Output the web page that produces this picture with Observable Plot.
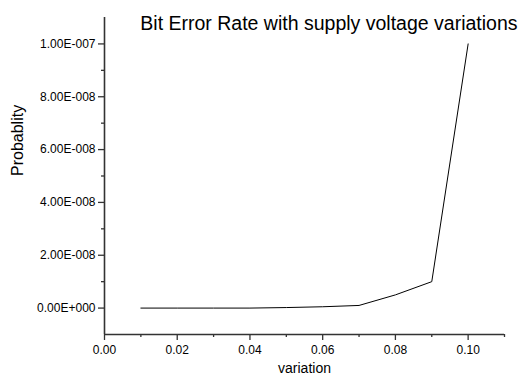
<!DOCTYPE html>
<html>
<head>
<meta charset="utf-8">
<script src="https://cdn.jsdelivr.net/npm/d3@7"></script>
<script src="https://cdn.jsdelivr.net/npm/@observablehq/plot@0.6"></script>
<style>
  html, body { margin: 0; padding: 0; background: #fff; }
  #chart { width: 520px; height: 385px; }
</style>
</head>
<body>
<div id="chart"></div>
<script>
const titleText = "Bit Error Rate with supply voltage variations";
const xLabel = "variation";
const yLabel = "Probablity";

const variation = [0.01, 0.02, 0.03, 0.04, 0.05, 0.06, 0.07, 0.08, 0.09, 0.10];
const probability = [0, 0, 0, 0, 2e-10, 5e-10, 1e-9, 5e-9, 1e-8, 1e-7];

const xMajor = [0, 0.02, 0.04, 0.06, 0.08, 0.10];
const xMinor = [0.01, 0.03, 0.05, 0.07, 0.09, 0.11];
const yMajor = [0, 2e-8, 4e-8, 6e-8, 8e-8, 1e-7];
const yMinor = [1e-8, 3e-8, 5e-8, 7e-8, 9e-8];
const xDomain = [0, 0.11];
const yDomain = [-1e-8, 1.1e-7];

const data = variation.map((v, i) => ({x: v, y: probability[i]}));

function fmtE(v) {
  if (v === 0) return "0.00E+000";
  const [m, e] = v.toExponential(2).split("e");
  const n = +e;
  return m + "E" + (n < 0 ? "-" : "+") + String(Math.abs(n)).padStart(3, "0");
}

const axisColor = "#333";

const chart = Plot.plot({
  width: 520,
  height: 385,
  marginLeft: 104,
  marginRight: 16,
  marginTop: 17,
  marginBottom: 51,
  style: {fontFamily: "'Liberation Sans', Arial, sans-serif", fontSize: "12px", color: "#000", background: "#fff"},
  x: {domain: xDomain},
  y: {domain: yDomain},
  marks: [
    Plot.axisX({ticks: xMajor, tickSize: 6, tickPadding: 5, tickFormat: d3.format(".2f"), label: null, stroke: axisColor, strokeWidth: 1.3, fontSize: 12}),
    Plot.axisX({ticks: xMinor, tickSize: 3, tickFormat: () => "", label: null, stroke: axisColor, strokeWidth: 1.3}),
    Plot.axisY({ticks: yMajor, tickSize: 6, tickPadding: 3, tickFormat: fmtE, label: null, stroke: axisColor, strokeWidth: 1.3, fontSize: 12}),
    Plot.axisY({ticks: yMinor, tickSize: 3, tickFormat: () => "", label: null, stroke: axisColor, strokeWidth: 1.3}),
    Plot.ruleX([xDomain[0]], {stroke: axisColor, strokeWidth: 1.6}),
    Plot.ruleY([yDomain[0]], {stroke: axisColor, strokeWidth: 1.6}),
    Plot.line(data, {x: "x", y: "y", stroke: "#000", strokeWidth: 1}),
    Plot.text([titleText], {frameAnchor: "top-right", textAnchor: "end", dx: 13, dy: -1.5, fontSize: 19.5, fill: "#000"}),
    Plot.text([yLabel], {frameAnchor: "left", rotate: -90, dx: -87, dy: 0, fontSize: 16, fill: "#000"}),
    Plot.text([xLabel], {frameAnchor: "bottom", dy: 38, fontSize: 14, fill: "#000"})
  ]
});
document.getElementById("chart").appendChild(chart);
</script>
</body>
</html>
